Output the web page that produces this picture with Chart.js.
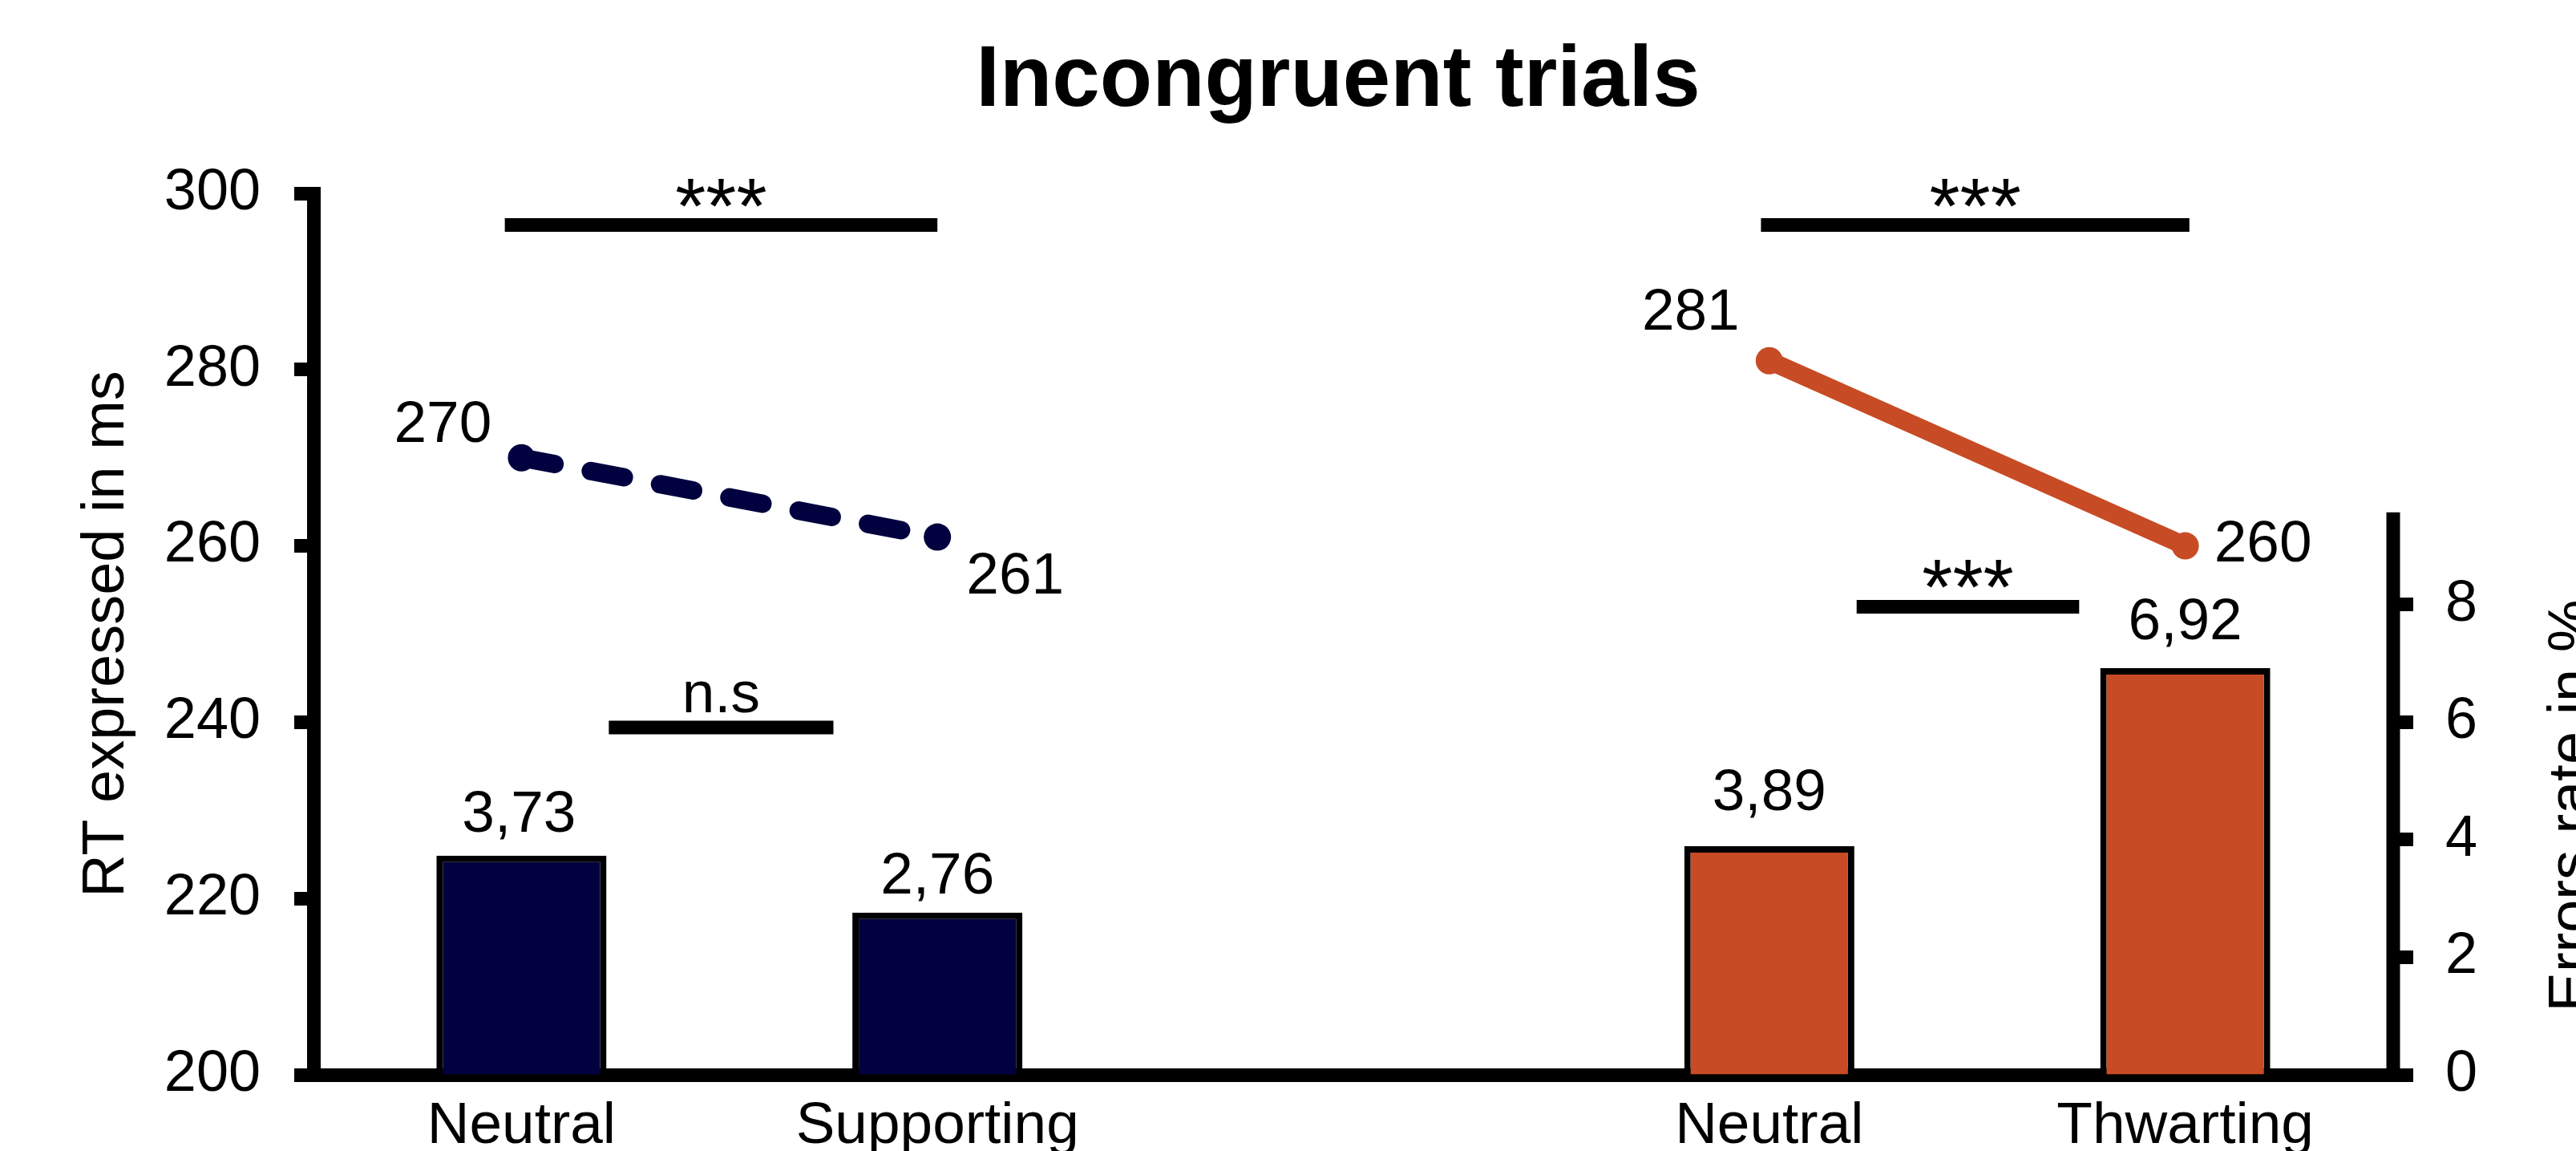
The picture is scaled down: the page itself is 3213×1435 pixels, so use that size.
<!DOCTYPE html>
<html><head><meta charset="utf-8">
<script src="https://cdn.jsdelivr.net/npm/chart.js@4"></script>
<style>html,body{margin:0;padding:0;background:#fff;overflow:hidden}</style>
</head><body>
<canvas id="c" width="3213" height="1435"></canvas>
<script>
// ---- data ----
const categories = ['Neutral', 'Supporting', '', 'Neutral', 'Thwarting'];
const rtSupporting = [270, 261, null, null, null];   // RT (ms), supporting condition
const rtThwarting  = [null, null, null, 281, 260];   // RT (ms), thwarting condition
const errorRates   = [3.73, 2.76, null, 3.89, 6.92]; // errors rate (%)
const rtTicks  = [200, 220, 240, 260, 280, 300];
const errTicks = [0, 2, 4, 6, 8];
const sigTexts = ['***', '***', 'n.s', '***'];

const FONT = "'Liberation Sans', Arial, sans-serif";
const NAVY = '#01013F';
const ORANGE = '#C74B24';
const AXIS_W = 17;

Chart.defaults.font.family = FONT;
Chart.defaults.color = '#000';

const fmtComma = v => v.toFixed(2).replace('.', ',');

const titlePlugin = {
  id: 'mainTitle',
  afterDraw(chart) {
    const ctx = chart.ctx, a = chart.chartArea;
    ctx.save();
    ctx.font = 'bold 107px ' + FONT;
    ctx.fillStyle = '#000';
    ctx.textAlign = 'center';
    ctx.textBaseline = 'alphabetic';
    ctx.fillText('Incongruent trials', (a.left + a.right) / 2 - 19, 132);
    ctx.restore();
  }
};

const rightAxisPlugin = {
  id: 'rightAxis',
  afterDraw(chart, args, opts) {
    const ctx = chart.ctx, s = chart.scales.y1;
    ctx.save();
    ctx.strokeStyle = '#000';
    ctx.lineWidth = AXIS_W;
    ctx.beginPath();
    ctx.moveTo(s.left, s.getPixelForValue(0) + 8);
    ctx.lineTo(s.left, s.getPixelForValue(opts.top));
    ctx.stroke();
    // axis title, reading bottom-to-top
    ctx.font = '74px ' + FONT;
    ctx.fillStyle = '#000';
    ctx.textAlign = 'center';
    ctx.textBaseline = 'alphabetic';
    const cy = (s.getPixelForValue(0) + s.getPixelForValue(opts.top)) / 2 + 15;
    ctx.translate(s.left + 245, cy);
    ctx.rotate(-Math.PI / 2);
    ctx.fillText('Errors rate in %', 0, 0);
    ctx.restore();
  }
};

const valueLabels = {
  id: 'valueLabels',
  afterDatasetsDraw(chart, args, opts) {
    const ctx = chart.ctx;
    ctx.save();
    ctx.font = '73px ' + FONT;
    ctx.fillStyle = '#000';
    ctx.textAlign = 'center';
    ctx.textBaseline = 'alphabetic';
    chart.data.datasets.forEach((ds, di) => {
      const meta = chart.getDatasetMeta(di);
      const offs = opts.offsets[di];
      meta.data.forEach((el, i) => {
        const v = ds.data[i];
        if (v == null || !offs[i]) return;
        const txt = ds.type === 'bar' ? fmtComma(v) : String(v);
        ctx.fillText(txt, el.x + offs[i][0], el.y + offs[i][1]);
      });
    });
    ctx.restore();
  }
};

const sigPlugin = {
  id: 'sig',
  afterDatasetsDraw(chart, args, opts) {
    const ctx = chart.ctx, xs = chart.scales.x, ys = chart.scales.y;
    ctx.save();
    ctx.strokeStyle = '#000';
    ctx.fillStyle = '#000';
    ctx.lineWidth = AXIS_W;
    ctx.textAlign = 'center';
    ctx.textBaseline = 'alphabetic';
    opts.marks.forEach((m, k) => {
      const x0 = xs.getPixelForValue(m.from), x1 = xs.getPixelForValue(m.to);
      const y = ys.getPixelForValue(m.level);
      ctx.beginPath();
      ctx.moveTo(x0, y); ctx.lineTo(x1, y); ctx.stroke();
      const t = sigTexts[k];
      if (t === 'n.s') { ctx.font = '73px ' + FONT; ctx.fillText(t, (x0 + x1) / 2, y - 19); }
      else { ctx.font = '98px ' + FONT; ctx.fillText(t, (x0 + x1) / 2, y + 10); }
    });
    ctx.restore();
  }
};

new Chart(document.getElementById('c'), {
  type: 'bar',
  data: {
    labels: categories,
    datasets: [
      {
        type: 'line', label: 'RT supporting', data: rtSupporting, yAxisID: 'y',
        borderColor: NAVY, backgroundColor: NAVY, borderWidth: 23,
        borderDash: [42, 46], borderCapStyle: 'round',
        pointRadius: 17, pointBorderWidth: 0, pointBackgroundColor: NAVY, spanGaps: false
      },
      {
        type: 'line', label: 'RT thwarting', data: rtThwarting, yAxisID: 'y',
        borderColor: ORANGE, backgroundColor: ORANGE, borderWidth: 23,
        pointRadius: 17, pointBorderWidth: 0, pointBackgroundColor: ORANGE, spanGaps: false
      },
      {
        type: 'bar', label: 'Errors', data: errorRates, yAxisID: 'y1',
        backgroundColor: [NAVY, NAVY, NAVY, ORANGE, ORANGE],
        borderColor: '#000', borderWidth: 8,
        barPercentage: 0.409, categoryPercentage: 1
      }
    ]
  },
  options: {
    responsive: false,
    devicePixelRatio: 1,
    animation: false,
    layout: { padding: { top: 241, left: 0, right: 0, bottom: 0 } },
    plugins: {
      legend: { display: false },
      tooltip: { enabled: false },
      title: { display: false },
      rightAxis: { top: 9.57 },
      valueLabels: {
        offsets: [
          [[-98, -20], [97, 70], null, null, null],
          [null, null, null, [-98, -39], [97, 19]],
          [[-3, -30], [0, -24], null, [0, -45], [0, -36]]
        ]
      },
      sig: {
        marks: [
          { from: -0.04, to: 1.0, level: 296.4 },
          { from: 2.98, to: 4.01, level: 296.4 },
          { from: 0.21, to: 0.75, level: 239.4 },
          { from: 3.21, to: 3.745, level: 253.1 }
        ]
      }
    },
    scales: {
      x: {
        z: 1,
        offset: true,
        grid: { display: false },
        border: { display: true, color: '#000', width: AXIS_W },
        ticks: { font: { size: 73 }, color: '#000', padding: 13, autoSkip: false, maxRotation: 0 },
        afterFit: s => { s.height = 95; }
      },
      y: {
        position: 'left',
        min: 200, max: 300,
        afterBuildTicks: s => { s.ticks = rtTicks.map(v => ({ value: v })); },
        grid: { display: true, drawOnChartArea: false, drawTicks: true, tickLength: 24, tickWidth: AXIS_W, tickColor: '#000' },
        border: { display: true, color: '#000', width: AXIS_W },
        ticks: { font: { size: 72 }, color: '#000', padding: 42 },
        title: { display: true, text: 'RT expressed in ms', font: { size: 74 }, color: '#000', padding: { top: 89, bottom: 0 } },
        afterFit: s => { s.width = 391; }
      },
      y1: {
        position: 'right',
        min: 0, max: 15,
        afterBuildTicks: s => { s.ticks = errTicks.map(v => ({ value: v })); },
        grid: { display: true, drawOnChartArea: false, drawTicks: true, tickLength: 25, tickWidth: AXIS_W, tickColor: '#000' },
        border: { display: false },
        ticks: { font: { size: 72 }, color: '#000', padding: 40 },
        afterFit: s => { s.width = 228; }
      }
    }
  },
  plugins: [titlePlugin, rightAxisPlugin, valueLabels, sigPlugin]
});
</script>
</body></html>
